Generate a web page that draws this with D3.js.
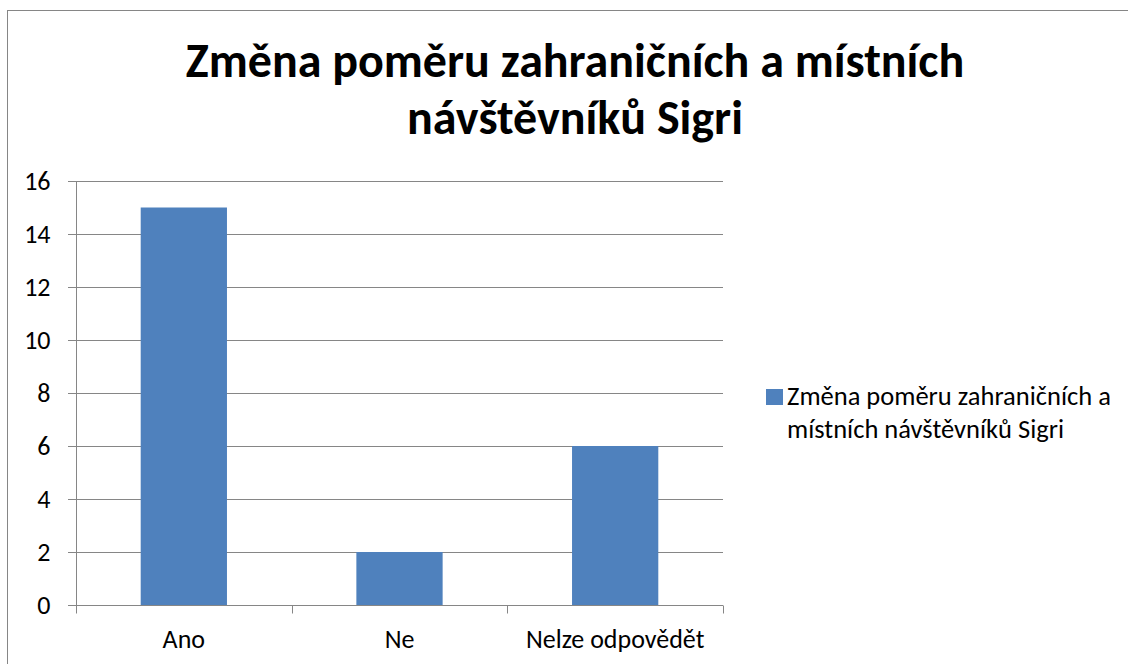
<!DOCTYPE html>
<html>
<head>
    <meta charset="UTF-8">
    <title>Změna poměru zahraničních a místních návštěvníků Sigri</title>
    <style>
        body {
            margin: 0;
            padding: 0;
            background: #fff;
            font-family: Calibri, Carlito, Lato, 'Open Sans', sans-serif;
        }
        svg { display: block; }
        .axis text { fill: #000; }
        .ytick text { font-size: 26px; }
        .xlabel { font-size: 26px; }
        .grid line { stroke: #868686; stroke-width: 1px; }
    </style>
</head>
<body>

<svg></svg>

<script src="https://d3js.org/d3.v7.min.js"></script>
<script>

// data
let categories = ["Ano", "Ne", "Nelze odpovědět"];
let values = [15, 2, 6];
let yTicks = [0, 2, 4, 6, 8, 10, 12, 14, 16];
let titleLines = ["Změna poměru zahraničních a místních", "návštěvníků Sigri"];
let legendLines = ["Změna poměru zahraničních a", "místních návštěvníků Sigri"];

// dimensions
let w = 1128, h = 664;
let plot = {left: 76, right: 723, top: 181, bottom: 605};
let barColor = "#4f81bd", axisColor = "#868686";

let svg = d3.select("svg")
    .attr("width", w)
    .attr("height", h);

// chart frame (clipped on right and bottom like the reference)
svg.append("rect")
    .attr("x", 7.5).attr("y", 10.5)
    .attr("width", w).attr("height", h)
    .attr("fill", "none")
    .attr("stroke", axisColor)
    .attr("stroke-width", 1);

// scales
let x = d3.scaleBand()
    .domain(categories)
    .range([plot.left, plot.right])
    .paddingInner(0.6)
    .paddingOuter(0.3);

let y = d3.scaleLinear()
    .domain([0, 16])
    .range([plot.bottom, plot.top]);

// gridlines
svg.append("g")
    .attr("class", "grid")
    .selectAll("line")
    .data(yTicks.filter(d => d > 0))
    .enter()
    .append("line")
    .attr("x1", plot.left - 8)
    .attr("x2", plot.right)
    .attr("y1", d => Math.round(y(d)) + 0.5)
    .attr("y2", d => Math.round(y(d)) + 0.5);

// bars
svg.append("g")
    .selectAll("rect")
    .data(values)
    .enter()
    .append("rect")
    .attr("x", (d, i) => x(categories[i]))
    .attr("y", d => y(d))
    .attr("width", x.bandwidth())
    .attr("height", d => y(0) - y(d))
    .attr("fill", barColor);

// y axis
let yAxis = svg.append("g")
    .attr("class", "axis ytick")
    .attr("transform", `translate(${plot.left + 0.5},0)`)
    .call(d3.axisLeft(y).tickValues(yTicks).tickSize(8).tickPadding(18));
yAxis.select(".domain").attr("stroke", axisColor).attr("d", `M0,${plot.top}V${plot.bottom + 0.5}`);
yAxis.selectAll(".tick line").attr("stroke", axisColor);
yAxis.selectAll(".tick").attr("transform", d => `translate(0,${Math.round(y(d)) + 0.5})`);
yAxis.attr("font-family", null).attr("font-size", null);

// x axis
let xAxisG = svg.append("g")
    .attr("class", "axis")
    .attr("transform", `translate(0,${Math.round(plot.bottom) + 0.5})`);
xAxisG.append("line")
    .attr("x1", plot.left - 8).attr("x2", plot.right)
    .attr("stroke", axisColor);
let bounds = [plot.left].concat(categories.slice(1).map(c => x(c) - x.step() * x.paddingInner() / 2));
bounds.push(plot.right);
xAxisG.selectAll(".xtick")
    .data(bounds)
    .enter()
    .append("line")
    .attr("x1", d => Math.round(d) + 0.5)
    .attr("x2", d => Math.round(d) + 0.5)
    .attr("y1", 0).attr("y2", 8)
    .attr("stroke", axisColor);
xAxisG.selectAll("text")
    .data(categories)
    .enter()
    .append("text")
    .attr("class", "xlabel")
    .attr("x", d => x(d) + x.bandwidth() / 2)
    .attr("y", 42)
    .attr("text-anchor", "middle")
    .text(d => d);

// title
svg.append("text")
    .attr("x", 575)
    .attr("y", 77)
    .attr("text-anchor", "middle")
    .style("font-size", "48px")
    .style("font-weight", "bold")
    .selectAll("tspan")
    .data(titleLines)
    .enter()
    .append("tspan")
    .attr("x", 575)
    .attr("dy", (d, i) => i === 0 ? 0 : 57)
    .text(d => d);

// legend
let legend = svg.append("g").attr("transform", "translate(766,389)");
legend.append("rect")
    .attr("width", 17).attr("height", 16)
    .attr("fill", barColor);
legend.append("text")
    .style("font-size", "26.5px")
    .selectAll("tspan")
    .data(legendLines)
    .enter()
    .append("tspan")
    .attr("x", 21)
    .attr("y", (d, i) => 16 + i * 33)
    .text(d => d);

</script>
</body>
</html>
